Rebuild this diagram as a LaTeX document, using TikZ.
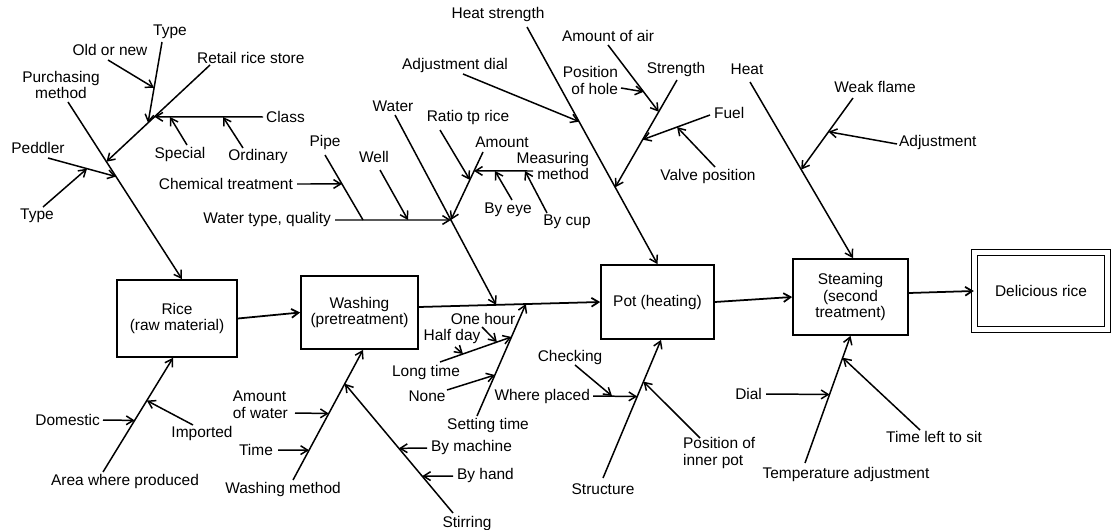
\documentclass[tikz,border=0pt]{standalone}
\usepackage{fontspec}
\setmainfont{Liberation Sans}
\usetikzlibrary{arrows.meta,calc}
\begin{document}
\begin{tikzpicture}[x=0.02cm,y=-0.02cm,
  every node/.style={font=\fontsize{8.8}{9.6}\selectfont, inner sep=1pt},
  bone/.style={line width=0.85pt},
  arr/.style={bone,-{Straight Barb[length=4pt,width=5pt]}},
  stagebox/.style={draw,line width=1pt,align=center,inner sep=0pt}]
\useasboundingbox (0,0) rectangle (1111,530);

% ---------- process stages ----------
\node[stagebox, minimum width=2.4cm, minimum height=1.54cm] (rice) at (177,318.5) {Rice\\(raw material)};
\node[stagebox, minimum width=2.34cm, minimum height=1.46cm] (wash) at (359.5,312.5) {Washing\\(pretreatment)};
\node[stagebox, minimum width=2.26cm, minimum height=1.48cm] (pot) at (657.5,302) {Pot (heating)};
\node[stagebox, minimum width=2.3cm, minimum height=1.52cm] (steam) at (850.5,297) {Steaming\\(second\\treatment)};
\node[stagebox, double, double distance=2.6pt, line width=0.8pt, minimum width=2.66cm, minimum height=1.55cm] (result) at (1041,291) {Delicious rice};

\coordinate (wpS) at ($(wash.east)+(0,-5.5)$);
\coordinate (spS) at ($(steam.east)+(0,-4)$);
\draw[arr,line width=1pt] (rice.east) -- (wash.west);
\draw[arr,line width=1pt] (wpS) -- (pot.west);
\draw[arr,line width=1pt] (pot.east) -- (steam.west);
\draw[arr,line width=1pt] (spS) -- (result.west);

% ---------- rice: purchasing method ----------
\coordinate (pm0) at (68,102);
\coordinate (pmE) at ($(rice.north)+(5,0)$);
\coordinate (jped) at ($(pm0)!0.421!(pmE)$);
\coordinate (jret) at ($(pm0)!0.337!(pmE)$);
\draw[arr] (pm0) -- (pmE);
\coordinate (ped0) at (48,158);
\draw[arr] (ped0) -- (jped);
\coordinate (jtyp) at ($(ped0)!0.574!(jped)$);
\coordinate (typ0) at (43,207);
\draw[arr] (typ0) -- (jtyp);
\coordinate (ret0) at (210,65);
\draw[arr] (ret0) -- (jret);
\coordinate (jtt) at ($(ret0)!0.598!(jret)$);
\coordinate (jcl) at ($(ret0)!0.536!(jret)$);
\coordinate (tt0) at (162,42);
\draw[arr] (tt0) -- (jtt);
\coordinate (jon) at ($(tt0)!0.568!(jtt)$);
\coordinate (on0) at (108,60);
\draw[arr] (on0) -- (jon);
\coordinate (cl0) at (263,117);
\draw[arr] (cl0) -- (jcl);
\coordinate (jsp) at (170,117);
\coordinate (sp0) at (187,145);
\draw[arr] (sp0) -- (jsp);
\coordinate (jor) at (223,117);
\coordinate (or0) at (243,148);
\draw[arr] (or0) -- (jor);

\node[align=center] (lpm) at (61,85) {Purchasing\\method};
\node (lped) at (38,148) {Peddler};
\node (ltyp) at (37,216) {Type};
\node[anchor=west] (lret) at (195,58) {Retail rice store};
\node (ltt) at (170,32) {Type};
\node (lon) at (110,50) {Old or new};
\node[anchor=west] (lcl) at (264,117) {Class};
\node (lsp) at (180,155) {Special};
\node (lor) at (258,157) {Ordinary};

% ---------- washing: water ----------
\coordinate (wa0) at (395,115);
\coordinate (waE) at ($(wpS)!0.426!(pot.west)$);
\draw[arr] (wa0) -- (waE);
\coordinate (jwt) at ($(wa0)!0.553!(waE)$);
\coordinate (wt0) at (335,220);
\draw[arr] (wt0) -- (jwt);
\coordinate (jpipe) at (363,220);
\coordinate (pipe0) at (325,155);
\draw[bone] (pipe0) -- (jpipe);
\coordinate (jch) at ($(pipe0)!0.446!(jpipe)$);
\coordinate (chem0) at (297,184);
\draw[arr] (chem0) -- (jch);
\coordinate (jwell) at (408,220);
\coordinate (well0) at (380,170);
\draw[arr] (well0) -- (jwell);
\coordinate (am0) at (483,152);
\draw[arr] (am0) -- (jwt);
\coordinate (jra) at ($(am0)!0.41!(jwt)$);
\coordinate (ratio0) at (440,130);
\draw[arr] (ratio0) -- (jra);
\coordinate (jms) at ($(am0)!0.279!(jwt)$);
\coordinate (ms0) at (533,171);
\draw[arr] (ms0) -- (jms);
\coordinate (jeye) at (495,171);
\coordinate (eye0) at (512,200);
\draw[arr] (eye0) -- (jeye);
\coordinate (jcup) at (525,171);
\coordinate (cup0) at (547,213);
\draw[arr] (cup0) -- (jcup);

\node (lwa) at (393,106) {Water};
\node[anchor=east] (lwt) at (333,220) {Water type, quality};
\node (lpipe) at (325,143) {Pipe};
\node[anchor=east] (lch) at (295,184) {Chemical treatment};
\node (lwell) at (374,157) {Well};
\node (lra) at (468,118) {Ratio tp rice};
\node (lam) at (502,142) {Amount};
\node[anchor=east,align=right] (lms) at (591,166) {Measuring\\method};
\node (leye) at (508,210) {By eye};
\node (lcup) at (567,222) {By cup};

% ---------- pot: heat strength ----------
\coordinate (hs0) at (527,27);
\coordinate (hsE) at (pot.north);
\draw[arr] (hs0) -- (hsE);
\coordinate (jad) at ($(hs0)!0.399!(hsE)$);
\coordinate (ad0) at (463,74);
\draw[arr] (ad0) -- (jad);
\coordinate (jst) at ($(hs0)!0.676!(hsE)$);
\coordinate (st0) at (677,80);
\draw[arr] (st0) -- (jst);
\coordinate (jaa) at ($(st0)!0.296!(jst)$);
\coordinate (aa0) at (608,45);
\draw[arr] (aa0) -- (jaa);
\coordinate (jfu) at ($(st0)!0.556!(jst)$);
\coordinate (fu0) at (710,115);
\draw[arr] (fu0) -- (jfu);
\coordinate (jph) at ($(aa0)!0.701!(jaa)$);
\coordinate (ph0) at (621,88);
\draw[arr] (ph0) -- (jph);
\coordinate (jvp) at ($(fu0)!0.489!(jfu)$);
\coordinate (vp0) at (715,167);
\draw[arr] (vp0) -- (jvp);

\node (lhs) at (498,15) {Heat strength};
\node (lad) at (455,66) {Adjustment dial};
\node (laa) at (608,36) {Amount of air};
\node[anchor=east,align=right] (lph) at (620,80.5) {Position\\of hole};
\node (lst) at (676,70) {Strength};
\node[anchor=west] (lfu) at (712,113) {Fuel};
\node (lvp) at (708,177) {Valve position};

% ---------- steaming: heat ----------
\coordinate (he0) at (750,82);
\coordinate (heE) at ($(steam.north)+(2.5,0)$);
\draw[arr] (he0) -- (heE);
\coordinate (jwf) at ($(he0)!0.497!(heE)$);
\coordinate (wf0) at (853,98);
\draw[arr] (wf0) -- (jwf);
\coordinate (jadj) at ($(wf0)!0.472!(jwf)$);
\coordinate (adj0) at (897,144);
\draw[arr] (adj0) -- (jadj);

\node (lhe) at (747,69) {Heat};
\node (lwf) at (875,87) {Weak flame};
\node[anchor=west] (ladj) at (897,143) {Adjustment};

% ---------- rice: area where produced ----------
\coordinate (ar0) at (103,472);
\coordinate (arE) at ($(rice.south)+(-4,0)$);
\draw[arr] (ar0) -- (arE);
\coordinate (jdom) at ($(ar0)!0.452!(arE)$);
\coordinate (dom0) at (103,420);
\draw[arr] (dom0) -- (jdom);
\coordinate (jimp) at ($(ar0)!0.626!(arE)$);
\coordinate (imp0) at (193,425);
\draw[arr] (imp0) -- (jimp);

\node (lar) at (125,481) {Area where produced};
\node[anchor=east] (ldom) at (102,420) {Domestic};
\node (limp) at (202,433) {Imported};

% ---------- washing: washing method ----------
\coordinate (wm0) at (293,480);
\coordinate (wmE) at ($(wash.south)+(3.5,0)$);
\draw[arr] (wm0) -- (wmE);
\coordinate (jaw) at ($(wm0)!0.511!(wmE)$);
\coordinate (aw0) at (295,413);
\draw[arr] (aw0) -- (jaw);
\coordinate (jti) at ($(wm0)!0.229!(wmE)$);
\coordinate (ti0) at (278,450);
\draw[arr] (ti0) -- (jti);
\coordinate (jstir) at ($(wm0)!0.740!(wmE)$);
\coordinate (stir0) at (453,513);
\draw[arr] (stir0) -- (jstir);
\coordinate (jbm) at ($(stir0)!0.5!(jstir)$);
\coordinate (bm0) at (427,448);
\draw[arr] (bm0) -- (jbm);
\coordinate (jbh) at ($(stir0)!0.285!(jstir)$);
\coordinate (bh0) at (453,476);
\draw[arr] (bh0) -- (jbh);

\node (lwm) at (283,489) {Washing method};
\node[anchor=east,align=left] (law) at (290,405) {Amount\\of water};
\node[anchor=east] (lti) at (275,450) {Time};
\node (lstir) at (467,523) {Stirring};
\node[anchor=west] (lbm) at (429,447) {By machine};
\node[anchor=west] (lbh) at (455,475) {By hand};

% ---------- setting time ----------
\coordinate (se0) at (477,416);
\coordinate (seE) at ($(wpS)!0.59!(pot.west)$);
\draw[arr] (se0) -- (seE);
\coordinate (jlt) at ($(se0)!0.706!(seE)$);
\coordinate (lt0) at (440,362);
\draw[arr] (lt0) -- (jlt);
\coordinate (jno) at ($(se0)!0.366!(seE)$);
\coordinate (no0) at (447,390);
\draw[arr] (no0) -- (jno);
\coordinate (joh) at ($(lt0)!0.796!(jlt)$);
\coordinate (oh0) at (482,327);
\draw[arr] (oh0) -- (joh);
\coordinate (jhd) at ($(lt0)!0.321!(jlt)$);
\coordinate (hd0) at (455,347);
\draw[arr] (hd0) -- (jhd);

\node (lse) at (488,425) {Setting time};
\node (loh) at (483,319) {One hour};
\node (lhd) at (452,337) {Half day};
\node (llt) at (426,372) {Long time};
\node (lno) at (427,396) {None};

% ---------- pot: structure ----------
\coordinate (str0) at (603,478);
\coordinate (strE) at ($(pot.south)+(3.5,0)$);
\draw[arr] (str0) -- (strE);
\coordinate (jwp) at ($(str0)!0.59!(strE)$);
\coordinate (wp0) at (593,396);
\draw[arr] (wp0) -- (jwp);
\coordinate (jck) at (612,396);
\coordinate (ck0) at (575,365);
\draw[arr] (ck0) -- (jck);
\coordinate (jpip) at ($(str0)!0.698!(strE)$);
\coordinate (pip0) at (700,438);
\draw[arr] (pip0) -- (jpip);

\node (lstr) at (603,489) {Structure};
\node[anchor=east] (lwp) at (592,396) {Where placed};
\node (lck) at (570,357) {Checking};
\node[anchor=west,align=left] (lpip) at (681,453) {Position of\\inner pot};

% ---------- steaming: temperature adjustment ----------
\coordinate (ta0) at (805,463);
\coordinate (taE) at (steam.south);
\draw[arr] (ta0) -- (taE);
\coordinate (jdi) at ($(ta0)!0.539!(taE)$);
\coordinate (di0) at (766,394);
\draw[arr] (di0) -- (jdi);
\coordinate (jtl) at ($(ta0)!0.828!(taE)$);
\coordinate (tl0) at (920,430);
\draw[arr] (tl0) -- (jtl);

\node (lta) at (846,474) {Temperature adjustment};
\node[anchor=east] (ldi) at (764,394) {Dial};
\node (ltl) at (934,437) {Time left to sit};
\end{tikzpicture}
\end{document}
